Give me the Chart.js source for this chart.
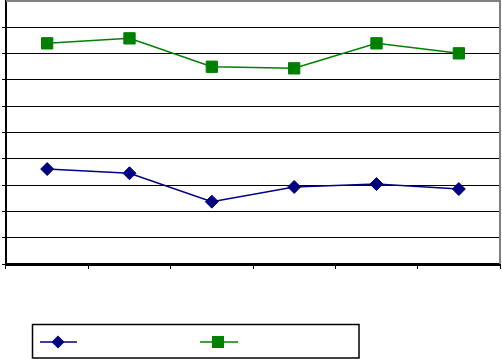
<!DOCTYPE html>
<html>
<head>
<meta charset="utf-8">
<script src="https://cdn.jsdelivr.net/npm/chart.js@4.4.1/dist/chart.umd.min.js"></script>
<style>
html,body{margin:0;padding:0;background:#fff;}
#wrap{width:502px;height:359px;position:relative;}
</style>
</head>
<body>
<div id="wrap"><canvas id="c" width="502" height="359"></canvas></div>
<script>
const categories = ['1', '2', '3', '4', '5', '6'];
const seriesBlue = [3.61, 3.45, 2.37, 2.93, 3.04, 2.85];
const seriesGreen = [8.39, 8.58, 7.50, 7.44, 8.39, 8.01];
const yMin = 0, yMax = 10, yStep = 1;

const BLUE = '#000080';
const GREEN = '#008000';

const framePlugin = {
  id: 'frame',
  afterDraw(chart) {
    const ctx = chart.ctx;
    const a = chart.chartArea;
    ctx.save();
    ctx.strokeStyle = '#808080';
    ctx.lineWidth = 2;
    ctx.beginPath();
    ctx.moveTo(a.left, a.top);
    ctx.lineTo(a.right, a.top);
    ctx.lineTo(a.right, a.bottom);
    ctx.stroke();
    // legend box
    ctx.strokeStyle = '#000';
    ctx.lineWidth = 1.5;
    ctx.strokeRect(32.5, 324.5, 326.5, 33.5);
    const ly = 342;
    ctx.strokeStyle = BLUE; ctx.lineWidth = 1.5;
    ctx.beginPath(); ctx.moveTo(40, ly); ctx.lineTo(77, ly); ctx.stroke();
    ctx.fillStyle = BLUE;
    ctx.beginPath();
    ctx.moveTo(58, ly - 6.5); ctx.lineTo(64.5, ly); ctx.lineTo(58, ly + 6.5); ctx.lineTo(51.5, ly);
    ctx.closePath(); ctx.fill();
    ctx.strokeStyle = GREEN;
    ctx.beginPath(); ctx.moveTo(200, ly); ctx.lineTo(238, ly); ctx.stroke();
    ctx.fillStyle = GREEN;
    ctx.fillRect(212, ly - 6, 12, 12);
    ctx.restore();
  }
};

new Chart(document.getElementById('c'), {
  type: 'line',
  data: {
    labels: categories,
    datasets: [
      {
        data: seriesBlue,
        borderColor: BLUE,
        backgroundColor: BLUE,
        borderWidth: 1.5,
        pointStyle: 'rectRot',
        pointRadius: 6.5,
        pointBorderWidth: 1,
        pointBorderColor: BLUE,
        pointBackgroundColor: BLUE,
        tension: 0,
        fill: false,
        clip: false
      },
      {
        data: seriesGreen,
        borderColor: GREEN,
        backgroundColor: GREEN,
        borderWidth: 1.5,
        pointStyle: 'rect',
        pointRadius: 8,
        pointBorderWidth: 1,
        pointBorderColor: GREEN,
        pointBackgroundColor: GREEN,
        tension: 0,
        fill: false,
        clip: false
      }
    ]
  },
  options: {
    responsive: false,
    animation: false,
    devicePixelRatio: 1,
    layout: { autoPadding: false, padding: { left: 2, right: 2, top: 1, bottom: 90 } },
    plugins: { legend: { display: false }, tooltip: { enabled: false } },
    scales: {
      x: {
        offset: true,
        grid: {
          display: true,
          offset: true,
          drawOnChartArea: false,
          drawTicks: true,
          tickLength: 5,
          color: '#000',
          lineWidth: 1
        },
        border: { display: true, color: '#000', width: 3 },
        ticks: { display: false }
      },
      y: {
        min: yMin,
        max: yMax,
        grid: {
          color: (c) => c.tick && c.tick.value === yMax ? 'rgba(0,0,0,0)' : '#000',
          lineWidth: 1,
          drawTicks: true,
          tickLength: 4
        },
        border: { display: true, color: '#000', width: 2 },
        ticks: { display: false, stepSize: yStep }
      }
    }
  },
  plugins: [framePlugin]
});
</script>
</body>
</html>
